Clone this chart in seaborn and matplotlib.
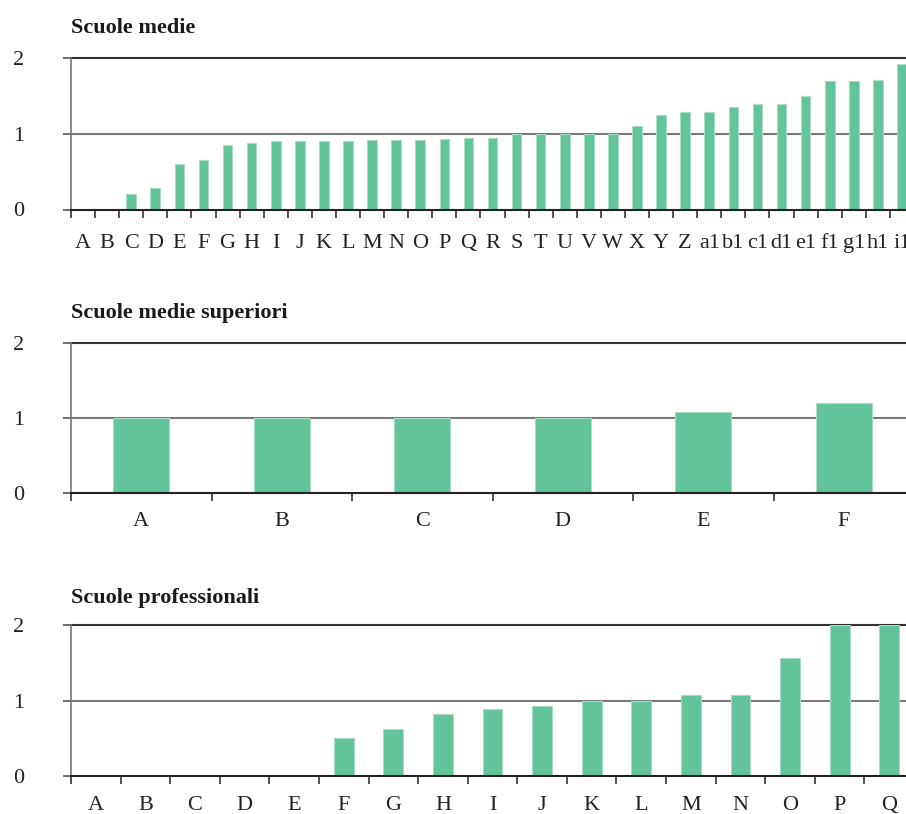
import matplotlib
matplotlib.use("Agg")
import matplotlib.pyplot as plt
import seaborn as sns
import pandas as pd
import numpy as np

# ---- data ----
medie_labels = ["A","B","C","D","E","F","G","H","I","J","K","L","M","N","O","P","Q","R",
                "S","T","U","V","W","X","Y","Z","a1","b1","c1","d1","e1","f1","g1","h1","i1"]
medie_values = [0, 0, 0.20, 0.29, 0.60, 0.65, 0.85, 0.88, 0.90, 0.90, 0.90, 0.90, 0.92, 0.92,
                0.92, 0.93, 0.95, 0.95, 1.00, 1.00, 1.00, 1.00, 1.00, 1.10, 1.25, 1.29, 1.29,
                1.35, 1.40, 1.40, 1.50, 1.70, 1.70, 1.71, 1.93]

superiori_labels = ["A","B","C","D","E","F"]
superiori_values = [1.00, 1.00, 1.00, 1.00, 1.08, 1.21]

prof_labels = ["A","B","C","D","E","F","G","H","I","J","K","L","M","N","O","P","Q"]
prof_values = [0, 0, 0, 0, 0, 0.50, 0.62, 0.83, 0.89, 0.93, 1.00, 1.00, 1.07, 1.07, 1.57, 2.00, 2.00]

titles = ["Scuole medie", "Scuole medie superiori", "Scuole professionali"]
y_ticks = [0, 1, 2]

GREEN = "#63c39b"
EDGE = "#a8dcc4"

sns.set_style("white")
plt.rcParams["font.family"] = ["Liberation Serif", "DejaVu Serif"]

W, H = 906, 814
fig = plt.figure(figsize=(W / 100, H / 100), dpi=100)

def fx(px):
    return px / W

def fy(px):
    return 1 - px / H

# panels: (top px, bottom px, title baseline px, xlabel pad pt)
panels = [
    (58.3, 209.5, 32.7, 17.5),
    (343.3, 493.3, 318.3, 13.5),
    (625.0, 776.3, 603.3, 14.0),
]
datasets = [(medie_labels, medie_values), (superiori_labels, superiori_values), (prof_labels, prof_values)]

left_px, right_px = 71, 914
for (top, bot, tb, xpad), (labs, vals), title in zip(panels, datasets, titles):
    ax = fig.add_axes([fx(left_px), fy(bot), fx(right_px - left_px), (bot - top) / H])
    df = pd.DataFrame({"cat": labs, "val": vals})
    sns.barplot(data=df, x="cat", y="val", order=labs, color=GREEN, width=0.4,
                saturation=1, edgecolor=EDGE, linewidth=0.8, ax=ax, zorder=3)
    n = len(labs)
    ax.set_xlim(-0.5, n - 0.5)
    ax.set_ylim(0, 2)
    ax.set_xlabel("")
    ax.set_ylabel("")
    # gridlines
    ax.axhline(1, color="#7a7a7a", lw=1.5, zorder=1)
    ax.axhline(2, color="#333333", lw=1.5, zorder=1, clip_on=False)
    for s in ["top", "right"]:
        ax.spines[s].set_visible(False)
    ax.spines["bottom"].set_color("#222222")
    ax.spines["bottom"].set_linewidth(1.5)
    ax.spines["bottom"].set_zorder(4)
    ax.spines["left"].set_color("#777777")
    ax.spines["left"].set_linewidth(1.2)
    # y ticks
    ax.set_yticks(y_ticks)
    ax.set_yticklabels([str(t) for t in y_ticks])
    ax.tick_params(axis="y", which="major", left=True, length=5.8, width=1.2,
                   color="#555555", pad=28, labelsize=16, labelcolor="#222222")
    # x ticks: labels at centres, marks at boundaries
    ax.set_xticks(np.arange(n))
    ax.set_xticklabels(labs)
    ax.tick_params(axis="x", which="major", bottom=True, length=0, pad=xpad,
                   labelsize=16, labelcolor="#222222")
    ax.set_xticks(np.arange(n + 1) - 0.5, minor=True)
    ax.tick_params(axis="x", which="minor", bottom=True, length=5.8, width=1.2,
                   color="#333333")
    fig.text(fx(left_px), fy(tb), title, fontsize=16, fontweight="bold",
             ha="left", va="baseline", color="#1a1a1a")

fig.savefig("out.png", dpi=100)
